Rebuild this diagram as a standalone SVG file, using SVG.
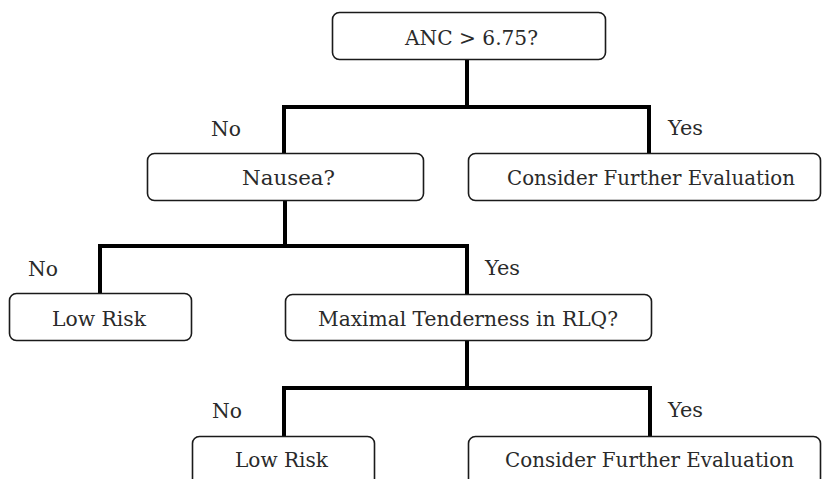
<svg xmlns="http://www.w3.org/2000/svg" width="826" height="479" viewBox="0 0 826 479">
<style>
.box{fill:#fff;stroke:#1a1a1a;stroke-width:1.6}
.t{font-family:"DejaVu Serif","Liberation Serif",serif;font-size:20.5px;fill:#2a2a2a}
.con{fill:none;stroke:#000;stroke-width:4;stroke-linejoin:miter;stroke-linecap:butt}
</style>
<rect width="826" height="479" fill="#fff"/>
<g id="connectors">
<path class="con" d="M467,60 V107 M284,155 V107 H649 V155"/>
<path class="con" d="M285,200 V246 M100,295 V246 H467 V296"/>
<path class="con" d="M467,341 V388 M284,438 V388 H650 V438"/>
</g>
<g id="labels">
<text class="t" x="211" y="136" textLength="30" lengthAdjust="spacingAndGlyphs">No</text>
<text class="t" x="668" y="135" textLength="35" lengthAdjust="spacingAndGlyphs">Yes</text>
<text class="t" x="28" y="276" textLength="30" lengthAdjust="spacingAndGlyphs">No</text>
<text class="t" x="485" y="275" textLength="35" lengthAdjust="spacingAndGlyphs">Yes</text>
<text class="t" x="212" y="418" textLength="30" lengthAdjust="spacingAndGlyphs">No</text>
<text class="t" x="668" y="417" textLength="35" lengthAdjust="spacingAndGlyphs">Yes</text>
</g>
<g id="n1"><rect class="box" x="332.5" y="12.5" width="273" height="47" rx="7"/><text class="t" x="405" y="45" textLength="133" lengthAdjust="spacingAndGlyphs">ANC &gt; 6.75?</text></g>
<g id="n2"><rect class="box" x="147.5" y="153.5" width="276" height="47" rx="7"/><text class="t" x="242" y="185" textLength="93" lengthAdjust="spacingAndGlyphs">Nausea?</text></g>
<g id="n3"><rect class="box" x="468.5" y="153.5" width="352" height="47" rx="7"/><text class="t" x="507" y="185" textLength="288" lengthAdjust="spacingAndGlyphs">Consider Further Evaluation</text></g>
<g id="n4"><rect class="box" x="9.5" y="293.5" width="182" height="47" rx="7"/><text class="t" x="52" y="326" textLength="94" lengthAdjust="spacingAndGlyphs">Low Risk</text></g>
<g id="n5"><rect class="box" x="285.5" y="294.5" width="366" height="46" rx="7"/><text class="t" x="318" y="326" textLength="300" lengthAdjust="spacingAndGlyphs">Maximal Tenderness in RLQ?</text></g>
<g id="n6"><rect class="box" x="192.5" y="436.5" width="182" height="60" rx="7"/><text class="t" x="235" y="467" textLength="93" lengthAdjust="spacingAndGlyphs">Low Risk</text></g>
<g id="n7"><rect class="box" x="468.5" y="436.5" width="352" height="60" rx="7"/><text class="t" x="505" y="467" textLength="289" lengthAdjust="spacingAndGlyphs">Consider Further Evaluation</text></g>
</svg>
